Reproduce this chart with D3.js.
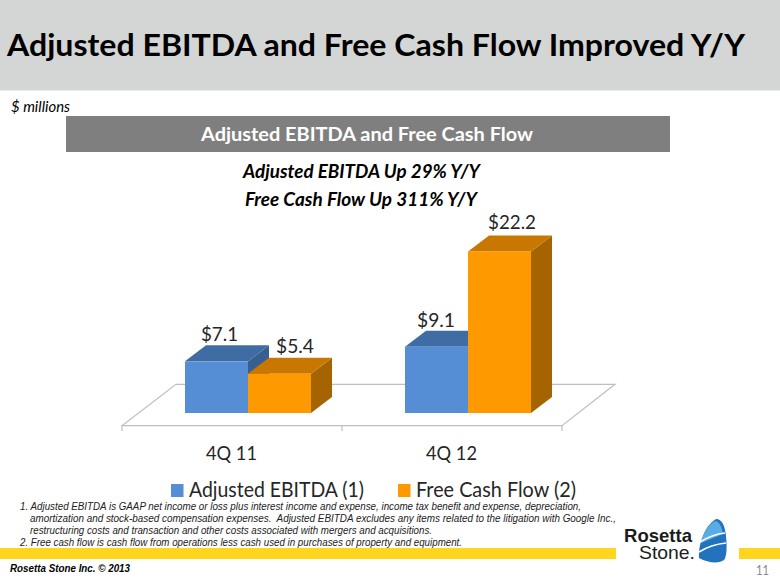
<!DOCTYPE html>
<html>
<head>
<meta charset="utf-8">
<script src="https://d3js.org/d3.v7.min.js"></script>
<style>
html, body { margin: 0; padding: 0; background: #fff; }
svg { display: block; }
</style>
</head>
<body>
<svg id="chart" width="780" height="585"></svg>
<script>
// data
const categories = ["4Q 11", "4Q 12"];
const seriesNames = ["Adjusted EBITDA (1)", "Free Cash Flow (2)"];
const ebitda = [7.1, 9.1];
const freeCash = [5.4, 22.2];
const valueLabels = [["$7.1", "$9.1"], ["$5.4", "$22.2"]];
const footnotes = [
	"1. Adjusted EBITDA is GAAP net income or loss plus interest income and expense, income tax benefit and expense, depreciation,",
	"amortization and stock-based compensation expenses.  Adjusted EBITDA excludes any items related to the litigation with Google Inc.,",
	"restructuring costs and transaction and other costs associated with mergers and acquisitions.",
	"2. Free cash flow is cash flow from operations less cash used in purchases of property and equipment."
];
const headlines = ["Adjusted EBITDA Up 29% Y/Y", "Free Cash Flow Up 311% Y/Y"];

const sans = "Lato, 'Open Sans', sans-serif";
const arial = "'Liberation Sans', Arial, sans-serif";
const colors = [
	{front: "#558ed5", top: "#3f6ca3", side: "#375f91"},
	{front: "#ff9900", top: "#c87800", side: "#a66400"}
];

let svg = d3.select("#chart");

function addText(x, y, str, size, opts){
	opts = opts || {};
	let t = svg.append("text")
		.attr("x", x).attr("y", y)
		.style("font-family", opts.family || sans)
		.style("font-size", size + "px")
		.style("font-weight", opts.weight || "normal")
		.style("font-style", opts.style || "normal")
		.style("fill", opts.fill || "#000")
		.style("text-anchor", opts.anchor || "start")
		.style("white-space", "pre")
		.text(str);
	if(opts.len){
		t.attr("textLength", opts.len).attr("lengthAdjust", "spacingAndGlyphs");
	}
	return t;
}

//header
svg.append("rect").attr("x", 0).attr("y", 0).attr("width", 780).attr("height", 90.5).attr("fill", "#d4d6d5");
addText(7, 56, "Adjusted EBITDA and Free Cash Flow Improved Y/Y", 30.5, {weight: "bold", len: 738});
addText(11, 111.5, "$ millions", 15, {style: "italic", len: 59});

svg.append("rect").attr("x", 66).attr("y", 116).attr("width", 604).attr("height", 36).attr("fill", "#7f7f7f");
addText(201, 141, "Adjusted EBITDA and Free Cash Flow", 18.5, {weight: "bold", fill: "#fff", len: 332});

addText(243, 178, headlines[0], 18, {weight: "bold", style: "italic", len: 237});
addText(245, 205.5, headlines[1], 18, {weight: "bold", style: "italic", len: 232});

//scales
const floorY = 413, depthX = 21, depthY = 16;
// bars sit further right than the axis bands because of the 3d floor
const barShift = 16;
let x0 = d3.scaleBand().domain(categories).range([122, 562]);
let x1 = d3.scaleBand().domain([0, 1]).range([0, 126]);
let y = d3.scaleLinear().domain([0, 25]).range([floorY, floorY - 182]);
const groupPad = (x0.bandwidth() - x1.range()[1]) / 2 + barShift;

//floor
let floor = svg.append("g").attr("fill", "none").attr("stroke", "#bfbfbf").attr("stroke-width", 1.2);
floor.append("path").attr("d", "M122,425.7 L176,384.3 L615,384.3 L562,425.7 Z").attr("fill", "#fff");
floor.append("path").attr("d", "M122,425.7 V431 M342,425.7 V431 M562,425.7 V431");

//bars, back to front
function drawBar(cat, s, val){
	let c = colors[s];
	let left = x0(cat) + groupPad + x1(s);
	let right = left + x1.bandwidth();
	let top = y(val);
	let g = svg.append("g");
	g.append("path").attr("fill", c.side)
		.attr("d", `M${right},${top} L${right + depthX},${top - depthY} V${floorY - depthY} L${right},${floorY} Z`);
	g.append("path").attr("fill", c.top)
		.attr("d", `M${left},${top} L${left + depthX},${top - depthY} H${right + depthX} L${right},${top} Z`);
	g.append("rect").attr("x", left).attr("y", top).attr("width", right - left).attr("height", floorY - top).attr("fill", c.front);
}
categories.forEach(function(cat, i){
	drawBar(cat, 0, ebitda[i]);
	drawBar(cat, 1, freeCash[i]);
});

//data labels
const labelDx = [[3, -0.5], [15.5, 12.5]];
const labelDy = [[-20.5, -20], [-20.5, -22.5]];
const labelLen = [[37, 38], [38, 48]];
categories.forEach(function(cat, i){
	[ebitda, freeCash].forEach(function(vals, s){
		let cx = x0(cat) + groupPad + x1(s) + x1.bandwidth() / 2 + labelDx[s][i];
		addText(cx, y(vals[i]) + labelDy[s][i], valueLabels[s][i], 20, {anchor: "middle", fill: "#262626", len: labelLen[s][i]});
	});
});

//category labels
categories.forEach(function(cat){
	addText(x0(cat) + x0.bandwidth() / 2 - 0.5, 460, cat, 20, {anchor: "middle", fill: "#262626", len: 51});
});

//legend
svg.append("rect").attr("x", 171).attr("y", 484).attr("width", 12.5).attr("height", 13).attr("fill", colors[0].front);
addText(189, 497, seriesNames[0], 20.5, {fill: "#262626", len: 175});
svg.append("rect").attr("x", 398).attr("y", 484).attr("width", 12.5).attr("height", 13).attr("fill", colors[1].front);
addText(416, 497, seriesNames[1], 20.5, {fill: "#262626", len: 160});

//footnotes
const noteX = [20, 30, 30, 20], noteLen = [561, 586, 402, 442];
footnotes.forEach(function(line, i){
	addText(noteX[i], 510 + i * 12, line, 10.3, {family: arial, style: "italic", fill: "#222", len: noteLen[i]});
});

//bottom band
svg.append("rect").attr("x", 0).attr("y", 548).attr("width", 616).attr("height", 11).attr("fill", "#ffd51d");
svg.append("rect").attr("x", 739).attr("y", 548).attr("width", 41).attr("height", 11).attr("fill", "#ffd51d");
addText(10, 572, "Rosetta Stone Inc. \u00a9 2013", 10.5, {family: arial, style: "italic", weight: "bold", len: 120});
addText(756, 575, "11", 14, {fill: "#8c8c8c", len: 13});

//logo, one text with two lines so the lines share a box
let logoText = svg.append("text").style("font-family", arial).style("font-size", "19px").style("fill", "#1c1c1c");
logoText.append("tspan").attr("x", 624).attr("y", 541.5).style("font-weight", "bold")
	.attr("textLength", 68).attr("lengthAdjust", "spacingAndGlyphs").text("Rosetta");
logoText.append("tspan").attr("x", 639).attr("y", 559)
	.attr("textLength", 56).attr("lengthAdjust", "spacingAndGlyphs").text("Stone.");
let stone = svg.append("g");
stone.append("path").attr("fill", "#2272bd")
	.attr("d", "M716,519 C722,519 725,526 726,536 C727,546 727,556 724,560 C719,564 708,563 699,558 C698,546 704,526 716,519 Z");
stone.append("path").attr("fill", "#58ade6")
	.attr("d", "M715,521 C719,521 722,527 723,534 L701,543 C703,534 708,525 715,521 Z");
stone.append("path").attr("fill", "none").attr("stroke", "#fff").attr("stroke-width", 1.5)
	.attr("d", "M700,542 C708,537 716,534 725,533 M699,552 C707,547 716,544 726,543");
</script>
</body>
</html>
